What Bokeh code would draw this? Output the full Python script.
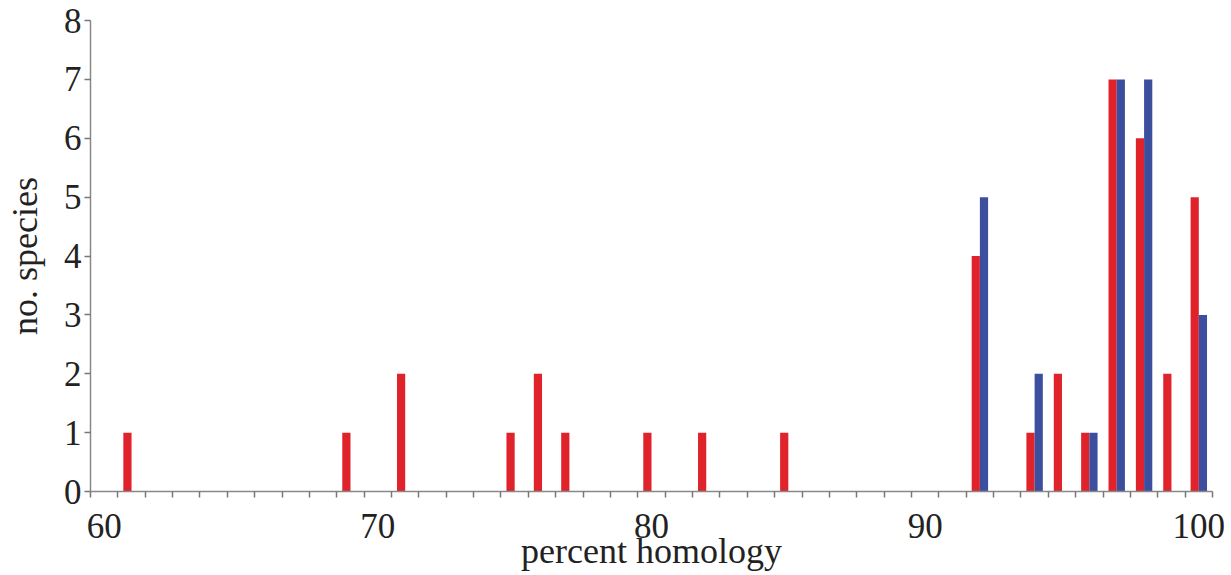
from bokeh.plotting import figure
from bokeh.models import FixedTicker, Range1d
from bokeh.embed import file_html
from bokeh.resources import INLINE

# data (percent homology -> number of species)
red_x = [61, 69, 71, 75, 76, 77, 80, 82, 85, 92, 94, 95, 96, 97, 98, 99, 100]
red_n = [1, 1, 2, 1, 2, 1, 1, 1, 1, 4, 1, 2, 1, 7, 6, 2, 5]
blue_x = [92, 94, 96, 97, 98, 100]
blue_n = [5, 2, 1, 7, 7, 3]
x_tick_values = [60, 70, 80, 90, 100]
y_tick_values = [0, 1, 2, 3, 4, 5, 6, 7, 8]

RED = "#e0232b"
BLUE = "#3c4f9e"
FONT = "Liberation Serif"
TXT = "#222222"

p = figure(width=1231, height=575, output_backend="svg", toolbar_location=None,
           x_range=Range1d(59.5, 100.5), y_range=Range1d(0, 8),
           min_border_left=90, min_border_right=19, min_border_top=20, min_border_bottom=84)

bw = 0.3
p.vbar(x=[v - bw / 2 for v in red_x], top=red_n, bottom=0, width=bw,
       fill_color=RED, line_color=None)
p.vbar(x=[v + bw / 2 for v in blue_x], top=blue_n, bottom=0, width=bw,
       fill_color=BLUE, line_color=None)

p.xgrid.visible = False
p.ygrid.visible = False
p.outline_line_color = None
p.background_fill_color = "white"
p.border_fill_color = "white"

xa = p.xaxis[0]
xa.ticker = FixedTicker(ticks=x_tick_values,
                        minor_ticks=[v - 0.5 for v in range(60, 102)])
xa.axis_label = "percent homology"
xa.axis_label_text_font = FONT
xa.axis_label_text_font_style = "normal"
xa.axis_label_text_font_size = "36px"
xa.axis_label_text_color = TXT
xa.axis_label_standoff = -10
xa.major_label_text_font = FONT
xa.major_label_text_font_size = "35px"
xa.major_label_text_color = TXT
xa.major_label_standoff = 16
xa.major_tick_line_color = None
xa.major_tick_out = 0
xa.major_tick_in = 0
xa.minor_tick_out = 6
xa.minor_tick_in = 0
xa.minor_tick_line_color = "#777777"
xa.minor_tick_line_width = 1.5
xa.axis_line_color = "#888888"
xa.axis_line_width = 1.5

ya = p.yaxis[0]
ya.ticker = FixedTicker(ticks=y_tick_values)
ya.axis_label = "no. species"
ya.axis_label_text_font = FONT
ya.axis_label_text_font_style = "normal"
ya.axis_label_text_font_size = "36px"
ya.axis_label_text_color = TXT
ya.axis_label_standoff = 16
ya.major_label_text_font = FONT
ya.major_label_text_font_size = "35px"
ya.major_label_text_color = TXT
ya.major_label_standoff = 3
ya.major_tick_out = 6
ya.major_tick_in = 0
ya.major_tick_line_color = "#777777"
ya.major_tick_line_width = 1.5
ya.minor_tick_line_color = None
ya.axis_line_color = "#888888"
ya.axis_line_width = 1.5

open("out.html", "w").write(file_html(p, INLINE))
